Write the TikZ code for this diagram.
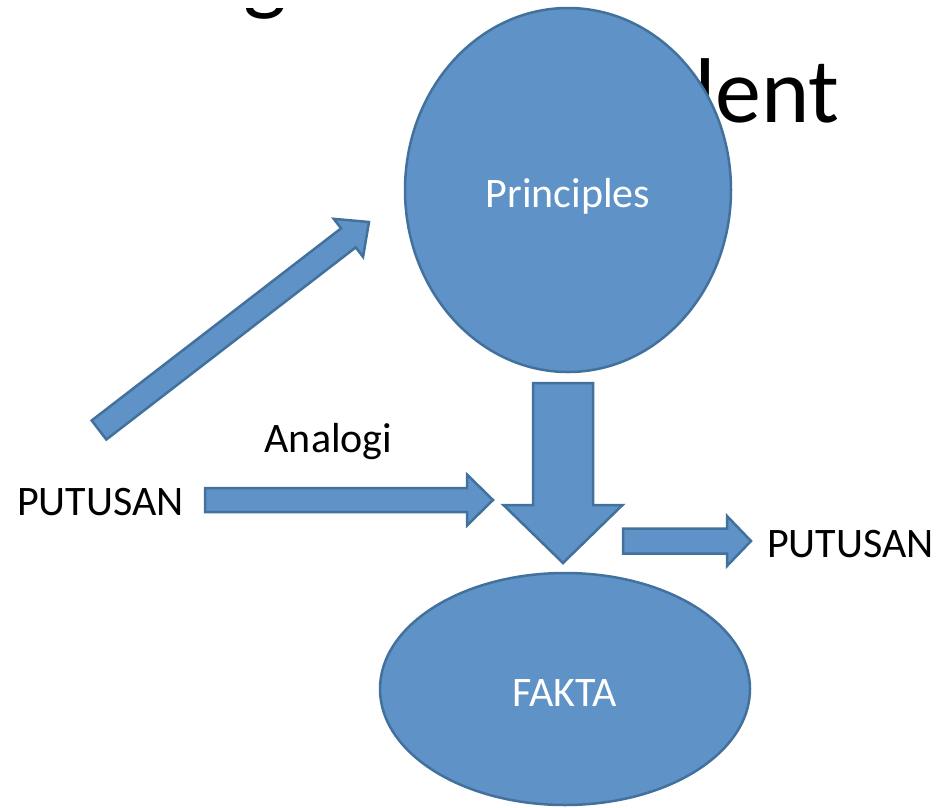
\documentclass[tikz,border=0pt]{standalone}
\usepackage{fontspec}
\setmainfont{Carlito}
\usetikzlibrary{shapes.geometric,calc}
\definecolor{blockfill}{HTML}{5F92C6}
\definecolor{blockline}{HTML}{41719C}
\begin{document}
\begin{tikzpicture}[x=1pt,y=-1pt,
    blob/.style={ellipse,draw=blockline,line width=2.5pt,fill=blockfill,inner sep=0pt,
      text=white,text height=35pt,text depth=0pt,font=\fontsize{42}{50}\selectfont},
    word/.style={inner sep=0pt,anchor=base,font=\fontsize{42}{50}\selectfont},
    title/.style={inner sep=0pt,font=\fontsize{92}{110}\selectfont},
    fat/.style={draw=blockline,line width=2.5pt,fill=blockfill,line join=miter}]
  \useasboundingbox (0,0) rectangle (938,807);
  % title, mostly hidden
  \begin{scope}
    \clip (0,8) rectangle (938,807);
    \node[title,anchor=base] (top) at (265,3) {g};
  \end{scope}
  \node[title,anchor=base east] (dent) at (840,122) {dent};
  % shapes
  \node[blob,minimum width=326pt,minimum height=364pt] (principles) at (568,190) {Principles};
  \node[blob,minimum width=370pt,minimum height=232pt] (fakta) at (565,689) {FAKTA};
  \node[word] (putusanL) at (100.5,515) {PUTUSAN};
  \node[word] (analogi) at (328.5,452) {Analogi};
  \node[word] (putusanR) at (850.5,557) {PUTUSAN};
  % block arrows
  \coordinate (a1) at (99,430);  \coordinate (b1) at (369,222);
  \coordinate (a2) at (205,500); \coordinate (b2) at (493,500);
  \coordinate (a3) at (563,383); \coordinate (b3) at (563,563);
  \coordinate (a4) at (623,541); \coordinate (b4) at (751,541);
  \foreach \from/\to/\s/\w/\l in {a1/b1/12pt/24pt/26pt, a2/b2/12pt/25.5pt/26pt,
      a3/b3/30pt/59.5pt/58pt, a4/b4/12.5pt/25pt/24pt}{
    \coordinate (neck) at ($(\to)!\l!(\from)$);
    \draw[fat] ($(\from)!\s!90:(\to)$) -- ($(neck)!\s!90:(\to)$) -- ($(neck)!\w!90:(\to)$)
      -- (\to) -- ($(neck)!\w!-90:(\to)$) -- ($(neck)!\s!-90:(\to)$)
      -- ($(\from)!\s!-90:(\to)$) -- cycle;
  }
\end{tikzpicture}
\end{document}
